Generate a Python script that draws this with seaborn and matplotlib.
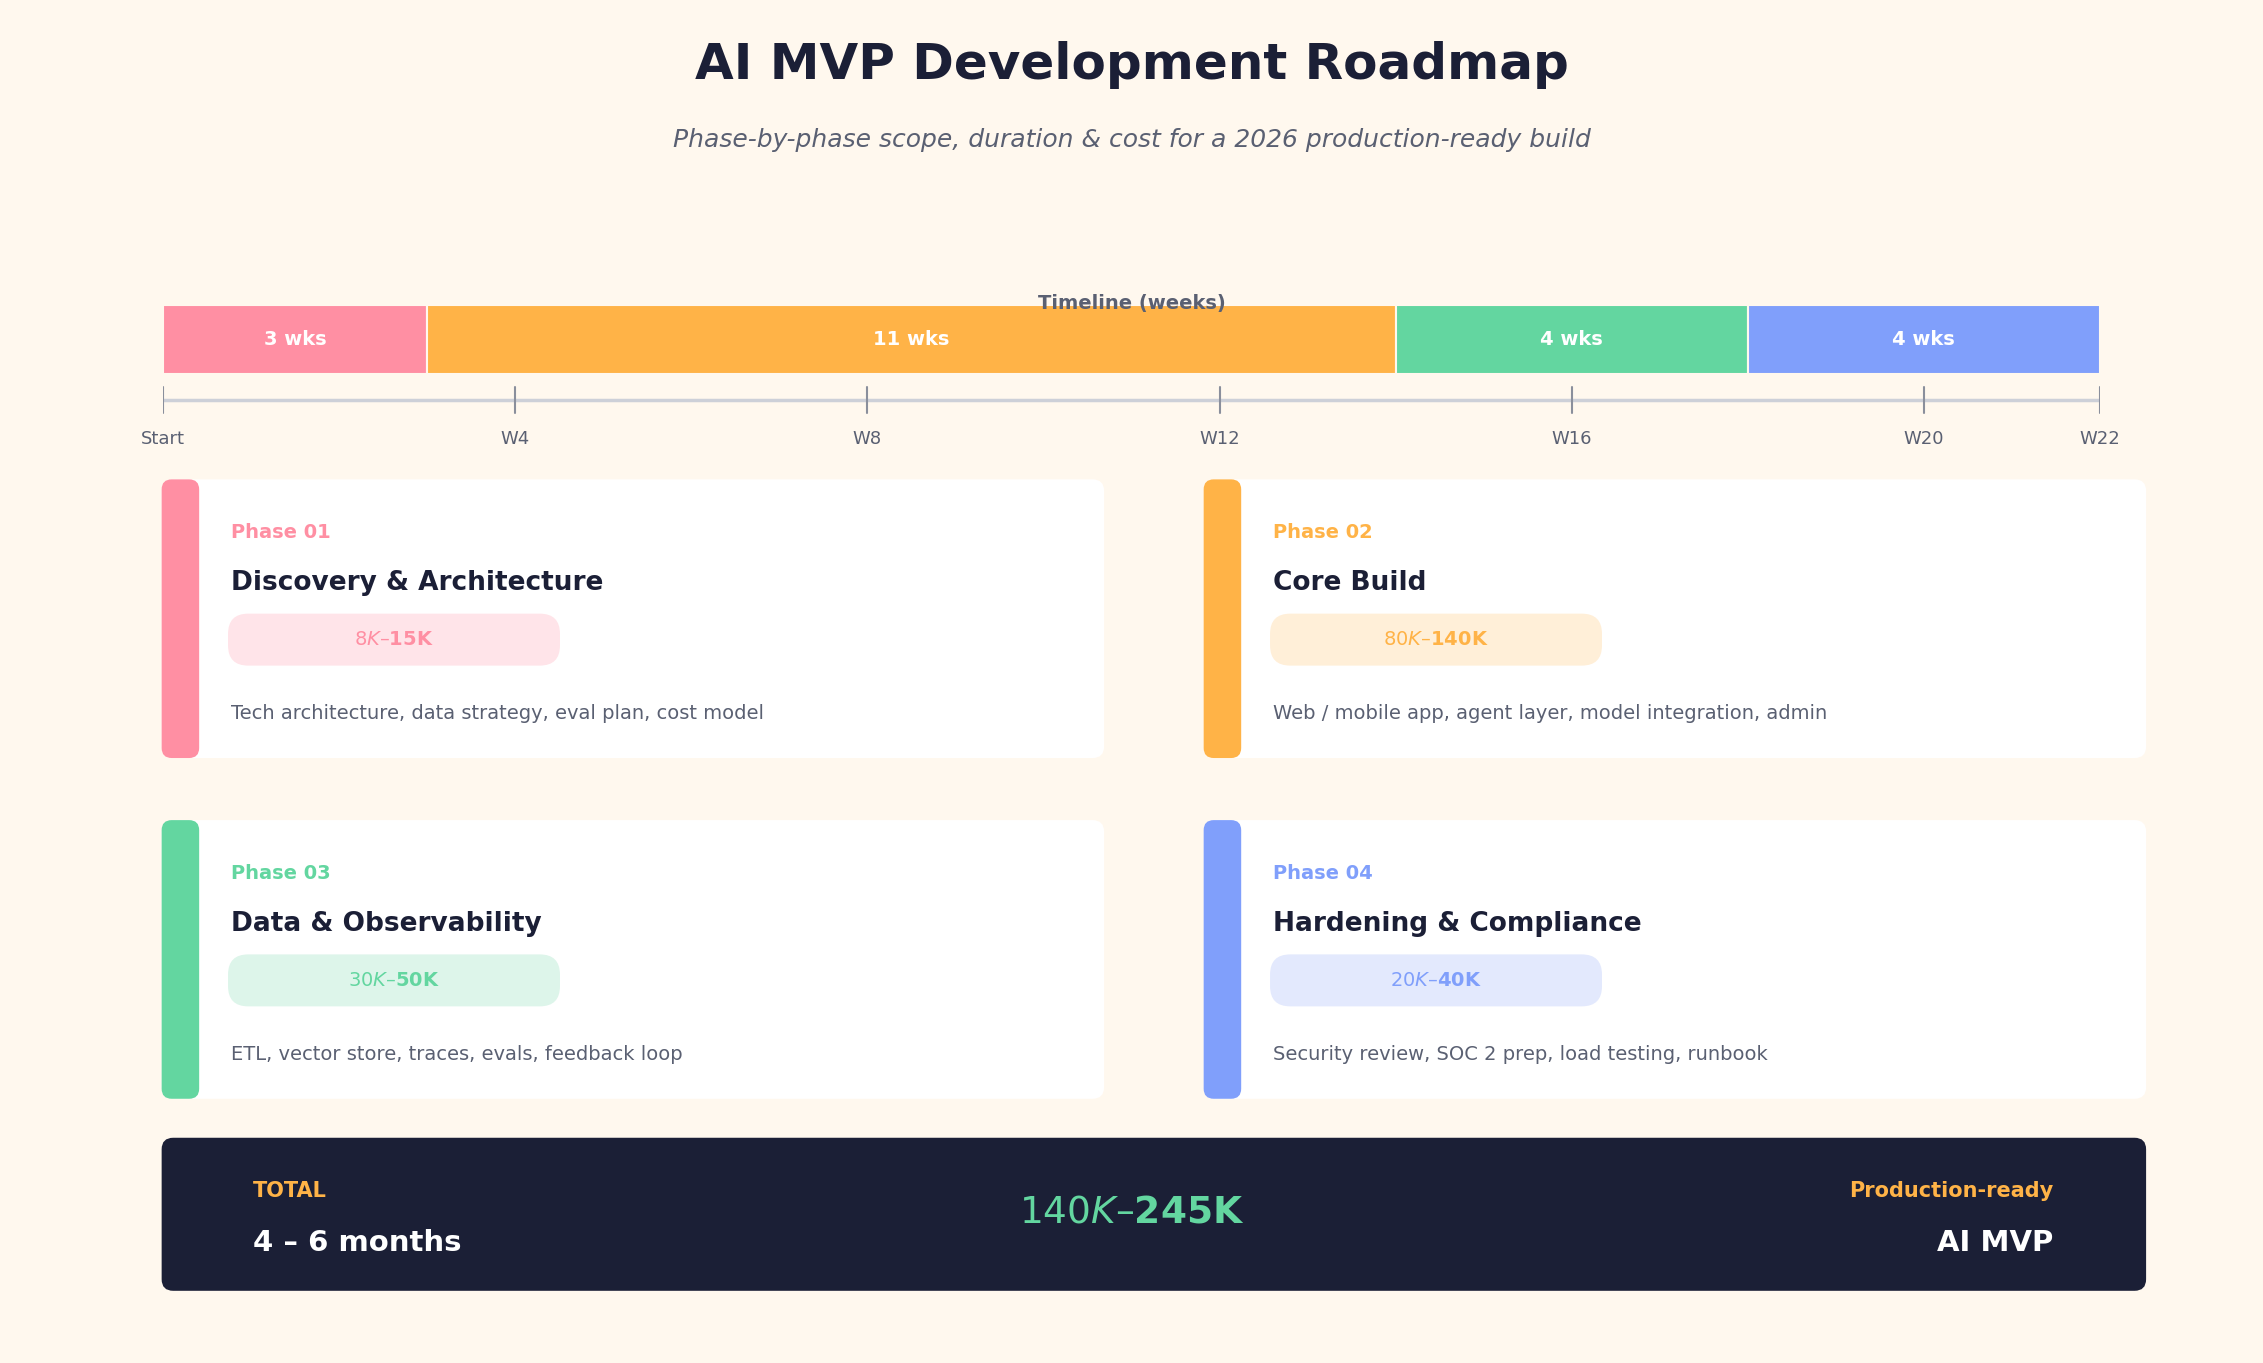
import matplotlib.pyplot as plt
import seaborn as sns
from matplotlib.patches import FancyBboxPatch

sns.set_theme(style="white")
plt.rcParams["font.family"] = ["DejaVu Sans"]

# ---------------------------------------------------------
# data
# ---------------------------------------------------------
phase_ids = ["Phase 01", "Phase 02", "Phase 03", "Phase 04"]
phase_titles = ["Discovery & Architecture", "Core Build", "Data & Observability", "Hardening & Compliance"]
phase_weeks = [3, 11, 4, 4]
phase_costs = ["$8K – $15K", "$80K – $140K", "$30K – $50K", "$20K – $40K"]
phase_desc = [
    "Tech architecture, data strategy, eval plan, cost model",
    "Web / mobile app, agent layer, model integration, admin",
    "ETL, vector store, traces, evals, feedback loop",
    "Security review, SOC 2 prep, load testing, runbook",
]
phase_colors = ["#ff8fa3", "#ffb347", "#63d6a0", "#809ffb"]
pill_colors = ["#ffe4e9", "#ffefd8", "#ddf5ea", "#e3e9fd"]
tick_weeks = [0, 4, 8, 12, 16, 20, 22]
tick_labels = ["Start", "W4", "W8", "W12", "W16", "W20", "W22"]
total_cost = "$140K – $245K"
total_time = "4 – 6 months"

BG = "#fff8ee"
DARK = "#1b1f36"
GREY = "#5a6072"
W, H = 1568, 944

fig = plt.figure(figsize=(22.63, 13.63), dpi=100)
fig.patch.set_facecolor(BG)

# page axes in reference pixel units
ax = fig.add_axes([0, 0, 1, 1])
ax.set_xlim(0, W)
ax.set_ylim(H, 0)
ax.axis("off")
ax.set_facecolor(BG)


def rbox(x0, y0, x1, y1, color, r=8, z=1):
    ax.add_patch(FancyBboxPatch((x0, y0), x1 - x0, y1 - y0,
                                boxstyle=f"round,pad=0,rounding_size={r}",
                                facecolor=color, edgecolor="none", zorder=z))


ax.text(784, 45, "AI MVP Development Roadmap", ha="center", va="center",
        fontsize=36, fontweight="bold", color=DARK)
ax.text(784, 97, "Phase-by-phase scope, duration & cost for a 2026 production-ready build",
        ha="center", va="center", fontsize=18, style="italic", color=GREY)

# timeline axes: weeks on x
tl = fig.add_axes([113 / W, 1 - 315 / H, (1455 - 113) / W, (315 - 200) / H])
tl.set_xlim(0, 22)
tl.set_ylim(315, 200)
tl.axis("off")
starts = [sum(phase_weeks[:i]) for i in range(len(phase_weeks))]
tl.barh([235] * 4, phase_weeks, left=starts, height=48, color=phase_colors,
        edgecolor=BG, linewidth=1.5)
for s, w in zip(starts, phase_weeks):
    tl.text(s + w / 2, 235, f"{w} wks", ha="center", va="center",
            fontsize=14, fontweight="bold", color="white")
tl.text(11, 210, "Timeline (weeks)", ha="center", va="center",
        fontsize=14, fontweight="bold", color=GREY, zorder=5)
tl.plot([0, 22], [277, 277], color="#cdd0d8", linewidth=2.5)
for wk, lab in zip(tick_weeks, tick_labels):
    tl.plot([wk, wk], [268, 286], color="#8a8f9c", linewidth=1.5)
    tl.text(wk, 304, lab, ha="center", va="center", fontsize=13, color=GREY)

# phase cards
card_x = [112, 834, 112, 834]
card_y = [332, 332, 568, 568]
for i in range(4):
    x, y = card_x[i], card_y[i]
    rbox(x, y, x + 653, y + 193, "white", r=8)
    rbox(x, y, x + 26, y + 193, phase_colors[i], r=7, z=2)
    ax.text(x + 48, y + 37, phase_ids[i], va="center", fontsize=14,
            fontweight="bold", color=phase_colors[i])
    ax.text(x + 48, y + 72, phase_titles[i], va="center", fontsize=19,
            fontweight="bold", color=DARK)
    rbox(x + 46, y + 93, x + 276, y + 129, pill_colors[i], r=14, z=2)
    ax.text(x + 161, y + 111, phase_costs[i], ha="center", va="center",
            fontsize=14, fontweight="bold", color=phase_colors[i], zorder=3)
    ax.text(x + 48, y + 162, phase_desc[i], va="center", fontsize=14, color=GREY)

# total bar
rbox(112, 788, 1487, 894, DARK, r=8)
ax.text(175, 825, "TOTAL", va="center", fontsize=15, fontweight="bold", color="#ffb347")
ax.text(175, 861, total_time, va="center", fontsize=21, fontweight="bold", color="white")
ax.text(784, 840, total_cost, ha="center", va="center", fontsize=27,
        fontweight="bold", color="#63d6a0")
ax.text(1423, 825, "Production-ready", ha="right", va="center", fontsize=15,
        fontweight="bold", color="#ffb347")
ax.text(1423, 861, "AI MVP", ha="right", va="center", fontsize=21,
        fontweight="bold", color="white")

fig.savefig("out.png", dpi=100, facecolor=BG)
plt.close()
